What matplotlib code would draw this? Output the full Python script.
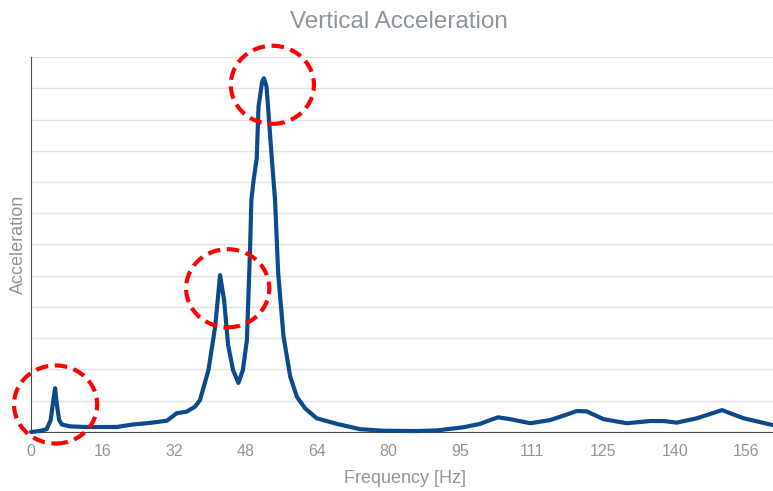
import matplotlib.pyplot as plt
from matplotlib.patches import Ellipse

plt.rcParams["font.family"] = ["Liberation Sans", "DejaVu Sans"]

# frequency axis positions (uniform tick spacing, 16 units per tick)
freq = [0, 2.0, 3.5, 4.4, 5.0, 5.4, 5.8, 6.3, 6.9, 8.7, 12.1, 19.2, 22.8,
        26.6, 30.4, 32.6, 34.8, 36.7, 37.8, 39.7, 41.2, 42.3, 43.2, 44.1,
        45.2, 46.4, 47.4, 48.3, 49.0, 49.3, 49.8, 50.5, 50.9, 51.7, 52.1,
        52.7, 53.9, 54.6, 55.3, 56.5, 58.0, 59.5, 61.3, 63.9, 68.4, 73.6,
        78.8, 86.3, 90.8, 96.7, 100.5, 102.7, 104.5, 107.2, 111.7, 116.1,
        119.5, 122.1, 124.3, 128.1, 133.3, 138.5, 141.5, 144.5, 149.0,
        154.6, 159.4, 166.0]
accel = [0, 0.03, 0.09, 0.38, 1.02, 1.40, 0.86, 0.38, 0.24, 0.18, 0.16,
         0.16, 0.24, 0.29, 0.36, 0.60, 0.65, 0.81, 1.02, 1.98, 3.37, 5.02,
         4.22, 2.78, 1.98, 1.57, 1.98, 2.94, 5.82, 7.42, 8.06, 8.76, 10.41,
         11.2, 11.32, 11.05, 8.70, 7.42, 5.08, 3.05, 1.77, 1.12, 0.76, 0.44,
         0.26, 0.09, 0.04, 0.03, 0.05, 0.15, 0.26, 0.38, 0.47, 0.41, 0.28,
         0.38, 0.54, 0.67, 0.66, 0.41, 0.28, 0.35, 0.35, 0.30, 0.44, 0.70,
         0.44, 0.22]

tick_pos = [0, 16, 32, 48, 64, 80, 96, 112, 128, 144, 160]
tick_labels = ["0", "16", "32", "48", "64", "80", "95", "111", "125", "140", "156"]

# highlighted peaks (center x, center y)
circle_centers = [(5.5, 0.88), (44.0, 4.6), (54.0, 11.11)]

gray = "#8c969e"

fig = plt.figure(figsize=(7.73, 4.91), dpi=100)
ax = fig.add_axes([0.0401, 0.1202, 0.9599, 0.7637])

ax.plot(freq, accel, color="#0d4a8b", linewidth=3, solid_joinstyle="round",
        solid_capstyle="round", zorder=3, clip_on=False)

for cx, cy in circle_centers:
    e = Ellipse((cx, cy), width=18.6, height=2.5, fill=False, edgecolor="#ff0000",
                linewidth=3, linestyle=(0, (3, 1.6)), zorder=4, clip_on=False)
    ax.add_patch(e)

ax.set_xlim(0, 166)
ax.set_ylim(0, 12)
ax.set_yticks(range(0, 13))
ax.set_yticklabels([])
ax.set_xticks(tick_pos)
ax.set_xticklabels(tick_labels)
ax.tick_params(axis="both", length=0, colors=gray, labelsize=11.5, pad=9)
ax.grid(axis="y", color="#e3e3e3", linewidth=1)
ax.set_axisbelow(True)

for side in ["top", "right"]:
    ax.spines[side].set_visible(False)
ax.spines["left"].set_color("#4a4a4a")
ax.spines["bottom"].set_color("#4a4a4a")

ax.text(0.496, 1.094, "Vertical Acceleration", transform=ax.transAxes,
        ha="center", va="center", color=gray, fontsize=17.5)
ax.set_xlabel("Frequency [Hz]", color=gray, fontsize=13, va="center")
ax.xaxis.set_label_coords(0.504, -0.123)
ax.set_ylabel("Acceleration", color=gray, fontsize=13, va="center")
ax.yaxis.set_label_coords(-0.0175, 0.5)

fig.savefig("out.png", dpi=100)
